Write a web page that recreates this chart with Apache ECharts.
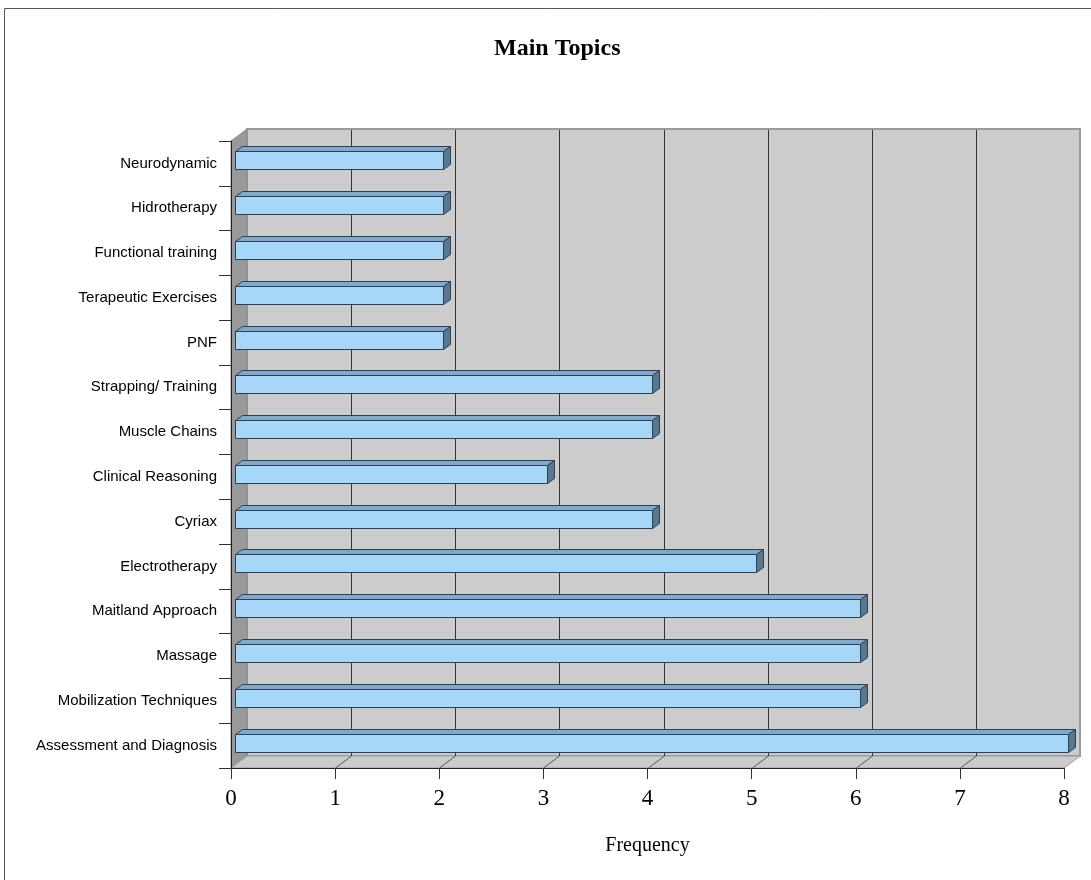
<!DOCTYPE html>
<html>
<head>
<meta charset="utf-8">
<script src="https://cdn.jsdelivr.net/npm/echarts@6/dist/echarts.min.js"></script>
<style>
html,body{margin:0;padding:0;background:#fff;}
#chart{width:1091px;height:880px;}
</style>
</head>
<body>
<div id="chart"></div>
<script>
const categories = ['Neurodynamic','Hidrotherapy','Functional training','Terapeutic Exercises','PNF','Strapping/ Training','Muscle Chains','Clinical Reasoning','Cyriax','Electrotherapy','Maitland Approach','Massage','Mobilization Techniques','Assessment and Diagnosis'];
const frequency = [2,2,2,2,2,4,4,3,4,5,6,6,6,8];
const xMin = 0, xMax = 8, xStep = 1;

const DEPTH_X = 16, DEPTH_Y = -12;   // wall depth
const BAR_OX = 4, BAR_OY = -3;       // bar position inside depth
const BAR_H = 18, BAR_DX = 7, BAR_DY = -5;

const chart = echarts.init(document.getElementById('chart'), null, {renderer:'canvas'});

function wallsRender(params, api){
  const cs = params.coordSys;
  const L = cs.x, T = cs.y, R = cs.x + cs.width, B = cs.y + cs.height;
  const ch = [];
  ch.push({type:'polygon', shape:{points:[[L+DEPTH_X,T+DEPTH_Y],[R+DEPTH_X,T+DEPTH_Y],[R+DEPTH_X,B+DEPTH_Y],[L+DEPTH_X,B+DEPTH_Y]]},
    style:{fill:'#cccccc', stroke:'#9a9a9a', lineWidth:2}});
  ch.push({type:'polygon', shape:{points:[[L,T],[L+DEPTH_X,T+DEPTH_Y],[L+DEPTH_X,B+DEPTH_Y],[L,B]]},
    style:{fill:'#999999', stroke:'#8a8a8a', lineWidth:1}});
  ch.push({type:'polygon', shape:{points:[[L,B],[L+DEPTH_X,B+DEPTH_Y],[R+DEPTH_X,B+DEPTH_Y],[R,B]]},
    style:{fill:'#cbcbcb', stroke:'#9a9a9a', lineWidth:1}});
  for (let v = xMin + xStep; v < xMax; v += xStep){
    const p = api.coord([v, 0]);
    const x = Math.round(p[0]) + 0.5;
    ch.push({type:'line', shape:{x1:x+DEPTH_X, y1:T+DEPTH_Y+1, x2:x+DEPTH_X, y2:B+DEPTH_Y}, style:{stroke:'#333', lineWidth:1}});
    ch.push({type:'line', shape:{x1:x, y1:B, x2:x+DEPTH_X, y2:B+DEPTH_Y}, style:{stroke:'#555', lineWidth:1}});
  }
  return {type:'group', children:ch};
}

function barRender(params, api){
  const v = api.value(0), c = api.value(1);
  const p0 = api.coord([0, c]);
  const p1 = api.coord([v, c]);
  const x0 = Math.round(p0[0] + BAR_OX) + 0.5;
  const x1 = Math.round(p1[0] + BAR_OX) + 0.5;
  const yc = p0[1] + BAR_OY;
  const yt = Math.round(yc - BAR_H/2) + 0.5, yb = yt + BAR_H;
  const stroke = {stroke:'#2f3f4f', lineWidth:1};
  return {type:'group', children:[
    {type:'polygon', shape:{points:[[x0,yt],[x0+BAR_DX,yt+BAR_DY],[x1+BAR_DX,yt+BAR_DY],[x1,yt]]}, style:Object.assign({fill:'#7faacd'}, stroke)},
    {type:'polygon', shape:{points:[[x1,yt],[x1+BAR_DX,yt+BAR_DY],[x1+BAR_DX,yb+BAR_DY],[x1,yb]]}, style:Object.assign({fill:'#58788f'}, stroke)},
    {type:'rect', shape:{x:x0, y:yt, width:x1-x0, height:BAR_H}, style:Object.assign({fill:'#a6d6f8'}, stroke)}
  ]};
}

chart.setOption({
  backgroundColor:'#ffffff',
  animation:false,
  title:{
    text:'Main Topics', left:489, top:32,
    textStyle:{fontFamily:'Liberation Serif', fontWeight:'bold', fontSize:24, color:'#000'}
  },
  graphic:[
    {type:'line', shape:{x1:4.5, y1:8.5, x2:1091, y2:8.5}, style:{stroke:'#555', lineWidth:1}},
    {type:'line', shape:{x1:4.5, y1:8.5, x2:4.5, y2:880}, style:{stroke:'#555', lineWidth:1}}
  ],
  grid:{left:231, top:141, width:833, height:627, containLabel:false},
  xAxis:{
    type:'value', min:xMin, max:xMax, interval:xStep, z:10,
    name:'Frequency', nameLocation:'middle', nameGap:68,
    nameTextStyle:{fontFamily:'Liberation Serif', fontSize:20, color:'#000'},
    axisLine:{show:true, lineStyle:{color:'#222', width:1}},
    axisTick:{show:true, length:11, inside:false, lineStyle:{color:'#333'}},
    axisLabel:{margin:19, fontFamily:'Liberation Serif', fontSize:23, color:'#000'},
    splitLine:{show:false}
  },
  yAxis:{
    type:'category', data:categories, inverse:true, z:10,
    axisLine:{show:true, lineStyle:{color:'#222', width:1}},
    axisTick:{show:true, length:12, lineStyle:{color:'#333'}},
    axisLabel:{margin:14, fontFamily:'Liberation Sans', fontSize:15, color:'#000'},
    splitLine:{show:false}
  },
  series:[
    {type:'custom', renderItem:wallsRender, data:[[0,0]], encode:{x:0,y:1}, silent:true, z:1},
    {type:'custom', renderItem:barRender, data:frequency.map((v,i)=>[v,i]), encode:{x:0,y:1}, z:5}
  ]
});
</script>
</body>
</html>
